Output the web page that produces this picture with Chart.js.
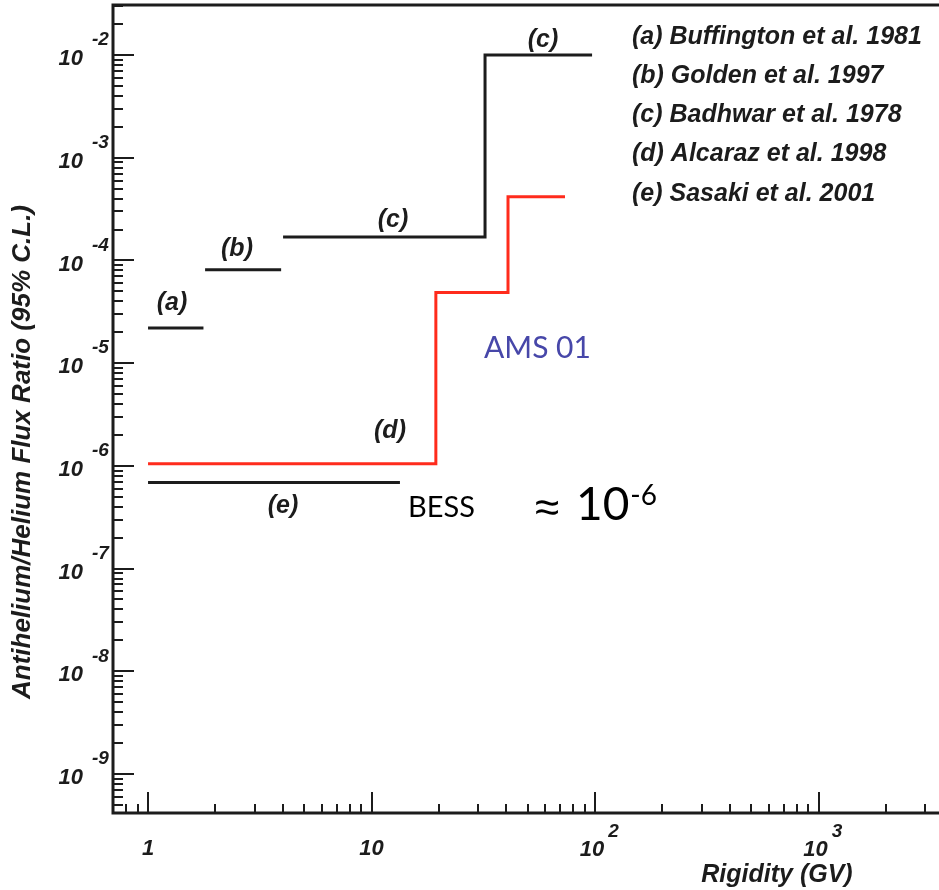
<!DOCTYPE html>
<html>
<head>
<meta charset="utf-8">
<script src="https://cdn.jsdelivr.net/npm/chart.js@4.4.1/dist/chart.umd.min.js"></script>
<style>
  html, body { margin: 0; padding: 0; background: #fff; }
  #wrap { width: 939px; height: 890px; }
</style>
</head>
<body>
<div id="wrap"><canvas id="fluxChart" width="939" height="890"></canvas></div>
<script>
// upper limits, drawn as steps: edges are rigidity (GV), levels are the ratio between two edges
const aEdges = [1, 1.77];
const aLevels = [2.2e-5];
const bEdges = [1.8, 3.94];
const bLevels = [8.1e-5];
const cEdges = [4.02, 32.2, 97];
const cLevels = [1.69e-4, 1.0e-2];
const dEdges = [1, 19.4, 40.8, 73.4];
const dLevels = [1.05e-6, 4.87e-5, 4.17e-4];
const eEdges = [1, 13.4];
const eLevels = [6.9e-7];

const legendLabels = [
    '(a) Buffington et al. 1981',
    '(b) Golden et al. 1997',
    '(c) Badhwar et al. 1978',
    '(d) Alcaraz et al. 1998',
    '(e) Sasaki et al. 2001'
];
const yDecades = [-9, -8, -7, -6, -5, -4, -3, -2];
const xDecades = [0, 1, 2, 3];

const INK = '#1c1c1c';
const RED = '#ff2b1c';
const ITAL = 'italic bold ';
const HELV = 'px "Liberation Sans", Arial, sans-serif';
const SANS = 'px Lato, "Noto Sans", sans-serif';

function stepPoints(edges, levels) {
    const pts = levels.map((lv, i) => ({ x: edges[i], y: lv }));
    pts.push({ x: edges[edges.length - 1], y: levels[levels.length - 1] });
    return pts;
}

function stepSet(edges, levels, color) {
    return {
        data: stepPoints(edges, levels),
        borderColor: color,
        borderWidth: 3,
        stepped: 'before', // horizontal first, then the jump
        showLine: true,
        pointRadius: 0,
        fill: false
    };
}

// frame, inward ticks, 10^n labels and all the text annotations
const decorations = {
    id: 'decorations',
    afterDatasetsDraw(chart) {
        const { ctx, chartArea: ca, scales: { x, y } } = chart;
        ctx.save();
        ctx.strokeStyle = INK;
        ctx.fillStyle = INK;

        // y ticks
        ctx.lineWidth = 2;
        ctx.beginPath();
        for (let d = -10; d <= -1; d++) {
            for (let m = 1; m <= 9; m++) {
                const v = m * Math.pow(10, d);
                if (v < y.min || v > y.max) continue;
                const py = Math.round(y.getPixelForValue(v));
                ctx.moveTo(ca.left, py);
                ctx.lineTo(ca.left + (m === 1 ? 21 : 10), py);
            }
        }
        // x ticks
        for (let d = -1; d <= 3; d++) {
            for (let m = 1; m <= 9; m++) {
                const v = m * Math.pow(10, d);
                if (v < x.min || v > x.max) continue;
                const px = Math.round(x.getPixelForValue(v));
                ctx.moveTo(px, ca.bottom);
                ctx.lineTo(px, ca.bottom - (m === 1 ? 21 : 9));
            }
        }
        ctx.stroke();

        // frame (left, top, bottom)
        ctx.lineWidth = 3;
        ctx.beginPath();
        ctx.moveTo(ca.right, ca.top);
        ctx.lineTo(ca.left, ca.top);
        ctx.lineTo(ca.left, ca.bottom);
        ctx.lineTo(ca.right, ca.bottom);
        ctx.stroke();

        // y tick labels
        ctx.textBaseline = 'middle';
        yDecades.forEach(d => {
            const py = y.getPixelForValue(Math.pow(10, d));
            ctx.font = ITAL + 22 + HELV;
            ctx.textAlign = 'right';
            ctx.fillText('10', 83, py + 4);
            ctx.font = ITAL + 19 + HELV;
            ctx.textAlign = 'left';
            ctx.fillText(String(d), 92, py - 15);
        });

        // x tick labels
        xDecades.forEach(d => {
            const px = x.getPixelForValue(Math.pow(10, d));
            ctx.font = ITAL + 22 + HELV;
            ctx.textAlign = 'center';
            if (d === 0) {
                ctx.fillText('1', px, 849);
            } else if (d === 1) {
                ctx.fillText('10', px, 849);
            } else {
                ctx.fillText('10', px - 3, 850);
                const w = ctx.measureText('10').width;
                ctx.font = ITAL + 19 + HELV;
                ctx.textAlign = 'left';
                ctx.fillText(String(d), px - 3 + w / 2 + 4, 832);
            }
        });

        // axis titles
        ctx.font = ITAL + 25 + HELV;
        ctx.textAlign = 'center';
        ctx.fillText('Rigidity (GV)', 777, 875);
        ctx.save();
        ctx.translate(23, 452);
        ctx.rotate(-Math.PI / 2);
        ctx.font = ITAL + 26 + HELV;
        ctx.fillText('Antihelium/Helium Flux Ratio (95% C.L.)', 0, 0);
        ctx.restore();

        // labels next to the limits
        ctx.font = ITAL + 25 + HELV;
        [['(a)', 172, 303], ['(b)', 237, 249], ['(c)', 393, 220],
         ['(c)', 543, 40], ['(d)', 390, 431], ['(e)', 283, 506]].forEach(([t, lx, ly]) => {
            ctx.fillText(t, lx, ly);
        });

        // legend text
        ctx.textAlign = 'left';
        legendLabels.forEach((t, i) => {
            ctx.fillText(t, 632, 37 + i * 39.2);
        });

        // overlaid notes
        ctx.textBaseline = 'alphabetic';
        ctx.font = 30 + SANS;
        ctx.fillStyle = '#4747a9';
        ctx.fillText('AMS 01', 484, 358);
        ctx.fillStyle = '#000';
        ctx.font = 29 + SANS;
        ctx.fillText('BESS', 408, 517);
        ctx.font = '44px "Noto Sans", sans-serif';
        ctx.fillText('\u2248', 535, 522);
        ctx.font = 46 + SANS;
        ctx.fillText('10', 576, 520);
        const w10 = ctx.measureText('10').width;
        ctx.font = 28 + SANS;
        ctx.fillText('-6', 576 + w10 + 1, 505);

        ctx.restore();
    }
};

new Chart(document.getElementById('fluxChart'), {
    type: 'scatter',
    data: {
        datasets: [
            stepSet(aEdges, aLevels, INK),
            stepSet(bEdges, bLevels, INK),
            stepSet(cEdges, cLevels, INK),
            stepSet(dEdges, dLevels, RED),
            stepSet(eEdges, eLevels, INK)
        ]
    },
    options: {
        responsive: false,
        animation: false,
        layout: { padding: { left: 113, top: 5, right: 0, bottom: 77 } },
        plugins: {
            legend: { display: false },
            tooltip: { enabled: false }
        },
        scales: {
            x: { type: 'logarithmic', min: 0.697, max: 3460, display: false },
            y: { type: 'logarithmic', min: 4.17e-10, max: 0.0307, display: false }
        }
    },
    plugins: [decorations]
});
</script>
</body>
</html>
